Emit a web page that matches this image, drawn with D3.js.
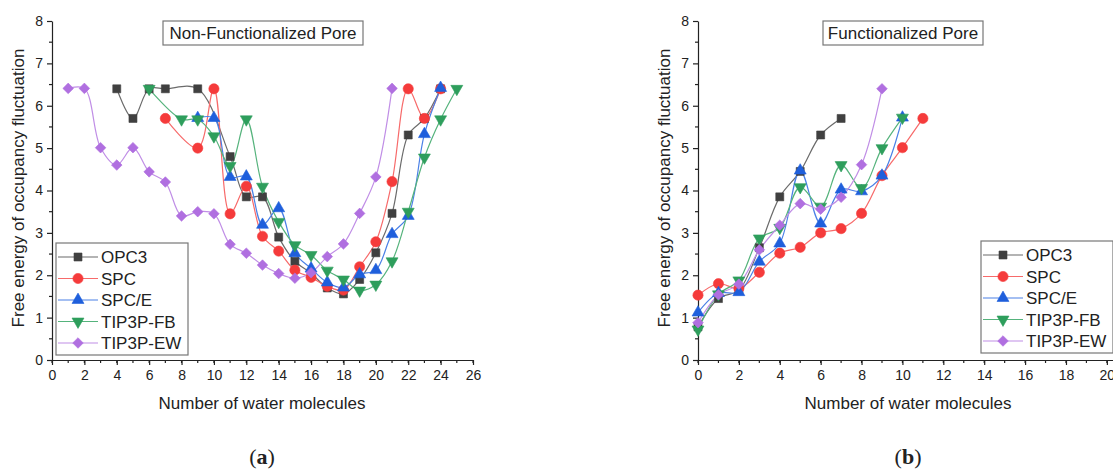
<!DOCTYPE html>
<meta charset="utf-8">
<html>
<head>
<title>Free energy of occupancy fluctuation</title>
<script src="https://cdn.jsdelivr.net/npm/d3@7"></script>
<style>
  body { margin: 0; background: #fff; }
  text { font-family: "Liberation Sans", Arial, sans-serif; fill: #222; }
  .axis path, .axis line { stroke: #222; stroke-width: 1.2px; }
  .axis text { font-size: 14px; font-family: "Liberation Sans", Arial, sans-serif; fill: #222; }
</style>
</head>
<body>
<script>

  var seriesNames = ["OPC3", "SPC", "SPC/E", "TIP3P-FB", "TIP3P-EW"];
  var markerColors = ["#404040", "#f53b3b", "#1f5fdc", "#2e9e5c", "#b06fe0"];
  var lineColors = ["#6b6b6b", "#f76a6a", "#4a80e6", "#55b37c", "#c08ee6"];

  // (a) non-functionalized pore
  var aOPC3X = [4, 5, 6, 7, 9, 11, 12, 13, 14, 15, 16, 17, 18, 19, 20, 21, 22, 23, 24];
  var aOPC3Y = [6.4, 5.7, 6.4, 6.4, 6.4, 4.8, 3.85, 3.85, 2.9, 2.33, 2.05, 1.7, 1.56, 1.9, 2.53, 3.46, 5.31, 5.7, 6.4];
  var aSPCX = [7, 9, 10, 11, 12, 13, 14, 15, 16, 17, 18, 19, 20, 21, 22, 23, 24];
  var aSPCY = [5.7, 5.0, 6.4, 3.45, 4.1, 2.92, 2.57, 2.12, 1.95, 1.74, 1.65, 2.2, 2.79, 4.21, 6.4, 5.7, 6.4];
  var aSPCEX = [9, 10, 11, 12, 13, 14, 15, 16, 17, 18, 19, 20, 21, 22, 23, 24];
  var aSPCEY = [5.71, 5.71, 4.32, 4.33, 3.19, 3.58, 2.52, 2.16, 1.83, 1.71, 2.02, 2.12, 2.97, 3.4, 5.33, 6.42];
  var aFBX = [6, 8, 9, 10, 11, 12, 13, 14, 15, 16, 17, 18, 19, 20, 21, 22, 23, 24, 25];
  var aFBY = [6.4, 5.68, 5.68, 5.28, 4.58, 5.68, 4.09, 3.26, 2.71, 2.48, 2.11, 1.9, 1.64, 1.78, 2.33, 3.5, 4.78, 5.68, 6.4];
  var aEWX = [1, 2, 3, 4, 5, 6, 7, 8, 9, 10, 11, 12, 13, 14, 15, 16, 17, 18, 19, 20, 21];
  var aEWY = [6.41, 6.41, 5.01, 4.6, 5.01, 4.44, 4.2, 3.4, 3.5, 3.45, 2.73, 2.52, 2.24, 2.04, 1.93, 2.06, 2.44, 2.74, 3.46, 4.32, 6.41];

  // (b) functionalized pore
  var bOPC3X = [0, 1, 2, 3, 4, 5, 6, 7];
  var bOPC3Y = [0.78, 1.45, 1.65, 2.65, 3.85, 4.45, 5.31, 5.7];
  var bSPCX = [0, 1, 2, 3, 4, 5, 6, 7, 8, 9, 10, 11];
  var bSPCY = [1.53, 1.8, 1.69, 2.07, 2.52, 2.66, 3.0, 3.1, 3.46, 4.35, 5.01, 5.7];
  var bSPCEX = [0, 1, 2, 3, 4, 5, 6, 7, 8, 9, 10];
  var bSPCEY = [1.12, 1.58, 1.6, 2.32, 2.75, 4.47, 3.22, 4.02, 3.98, 4.35, 5.72];
  var bFBX = [0, 1, 2, 3, 4, 5, 6, 7, 8, 9, 10];
  var bFBY = [0.72, 1.55, 1.88, 2.87, 3.12, 4.08, 3.62, 4.6, 4.06, 5.0, 5.72];
  var bEWX = [0, 1, 2, 3, 4, 5, 6, 7, 8, 9];
  var bEWY = [0.88, 1.54, 1.79, 2.6, 3.18, 3.69, 3.56, 3.84, 4.61, 6.4];

  var yTicks = [0, 1, 2, 3, 4, 5, 6, 7, 8];
  var aXTicks = [0, 2, 4, 6, 8, 10, 12, 14, 16, 18, 20, 22, 24, 26];
  var bXTicks = [0, 2, 4, 6, 8, 10, 12, 14, 16, 18, 20];

  var width = 1113, height = 470;

  var svg = d3.select("body").append("svg")
      .attr("width", width)
      .attr("height", height);

  function zip(xs, ys) {
      return xs.map(function(x, i) { return {x: x, y: ys[i]}; });
  }

  // Origin style markers
  var symbols = [
      {type: d3.symbolSquare, size: 64, rot: 0},
      {type: d3.symbolCircle, size: 82, rot: 0},
      {type: d3.symbolTriangle, size: 62, rot: 0},
      {type: d3.symbolTriangle, size: 62, rot: 180},
      {type: d3.symbolSquare, size: 56, rot: 45}
  ];

  function drawPanel(p) {
      var x = d3.scaleLinear().domain(p.xDomain).range(p.xRange);
      var y = d3.scaleLinear().domain([0, 8]).range([360, 21]);

      var g = svg.append("g");

      // minor ticks
      var xMinor = d3.range(p.xDomain[0], Math.floor(p.xDomain[1]) + 1, 1);
      g.append("g").selectAll("line").data(xMinor).enter().append("line")
          .attr("x1", function(d) { return x(d); })
          .attr("x2", function(d) { return x(d); })
          .attr("y1", 360).attr("y2", 363)
          .style("stroke", "#222").style("stroke-width", 1.2);
      g.append("g").selectAll("line").data(d3.range(0.5, 8, 1)).enter().append("line")
          .attr("y1", function(d) { return y(d); })
          .attr("y2", function(d) { return y(d); })
          .attr("x1", p.xRange[0]).attr("x2", p.xRange[0] - 3)
          .style("stroke", "#222").style("stroke-width", 1.2);

      g.append("g")
          .attr("class", "axis")
          .attr("transform", "translate(0,360)")
          .call(d3.axisBottom(x).tickValues(p.xTicks).tickSize(5).tickSizeOuter(0).tickPadding(5));

      g.append("g")
          .attr("class", "axis")
          .attr("transform", "translate(" + p.xRange[0] + ",0)")
          .call(d3.axisLeft(y).tickValues(yTicks).tickSize(5).tickSizeOuter(0).tickPadding(4));

      // axis titles
      g.append("text")
          .attr("x", p.xTitle).attr("y", 409)
          .attr("text-anchor", "middle")
          .style("font-size", "17px")
          .text("Number of water molecules");

      g.append("text")
          .attr("transform", "translate(" + p.yTitle + ",188) rotate(-90)")
          .attr("text-anchor", "middle")
          .style("font-size", "17px")
          .text("Free energy of occupancy fluctuation");

      // series
      var line = d3.line()
          .x(function(d) { return x(d.x); })
          .y(function(d) { return y(d.y); })
          .curve(d3.curveCatmullRom.alpha(0.5));

      p.series.forEach(function(s, i) {
          g.append("path")
              .datum(zip(s[0], s[1]))
              .attr("d", line)
              .style("fill", "none")
              .style("stroke", lineColors[i])
              .style("stroke-width", 1.2);
      });
      p.series.forEach(function(s, i) {
          g.append("g").selectAll("path").data(zip(s[0], s[1])).enter().append("path")
              .attr("d", d3.symbol().type(symbols[i].type).size(symbols[i].size))
              .attr("transform", function(d) {
                  return "translate(" + x(d.x) + "," + y(d.y) + ") rotate(" + symbols[i].rot + ")";
              })
              .style("fill", markerColors[i])
              .style("stroke", markerColors[i])
              .style("stroke-width", 0.6);
      });

      // title box
      var tb = g.append("g");
      tb.append("rect")
          .attr("x", p.box[0]).attr("y", 21)
          .attr("width", p.box[1]).attr("height", 24)
          .style("fill", "#fff").style("stroke", "#777").style("stroke-width", 1.2);
      tb.append("text")
          .attr("x", p.box[0] + p.box[1] / 2).attr("y", 39)
          .attr("text-anchor", "middle")
          .style("font-size", "17px")
          .text(p.title);

      // legend
      var lg = g.append("g");
      lg.append("rect")
          .attr("x", p.legend[0]).attr("y", p.legend[1])
          .attr("width", 132).attr("height", 112)
          .style("fill", "#fff").style("stroke", "#777").style("stroke-width", 1.2);
      seriesNames.forEach(function(name, i) {
          var ly = p.legend[1] + 14 + i * 21.5;
          var lx = p.legend[0];
          lg.append("line")
              .attr("x1", lx + 2).attr("x2", lx + 42)
              .attr("y1", ly).attr("y2", ly)
              .style("stroke", lineColors[i]).style("stroke-width", 1.2);
          lg.append("path")
              .attr("d", d3.symbol().type(symbols[i].type).size(symbols[i].size))
              .attr("transform", "translate(" + (lx + 22) + "," + ly + ") rotate(" + symbols[i].rot + ")")
              .style("fill", markerColors[i]).style("stroke", markerColors[i]).style("stroke-width", 0.6);
          lg.append("text")
              .attr("x", lx + 45).attr("y", ly + 6)
              .style("font-size", "17px")
              .text(name);
      });

      // panel letter
      var lt = g.append("text")
          .attr("x", p.xTitle).attr("y", 464)
          .attr("text-anchor", "middle")
          .style("font-family", "'Liberation Serif', 'Times New Roman', serif")
          .style("font-size", "22px");
      lt.append("tspan").text("(");
      lt.append("tspan").style("font-weight", "bold").text(p.letter);
      lt.append("tspan").text(")");
  }

  drawPanel({
      xDomain: [0, 26], xRange: [52, 473], xTicks: aXTicks,
      xTitle: 262, yTitle: 24,
      box: [163, 200], title: "Non-Functionalized Pore",
      legend: [56, 243], letter: "a",
      series: [[aOPC3X, aOPC3Y], [aSPCX, aSPCY], [aSPCEX, aSPCEY], [aFBX, aFBY], [aEWX, aEWY]]
  });

  drawPanel({
      xDomain: [0, 20.3], xRange: [698, 1113], xTicks: bXTicks,
      xTitle: 908, yTitle: 670,
      box: [823, 160], title: "Functionalized Pore",
      legend: [981, 241], letter: "b",
      series: [[bOPC3X, bOPC3Y], [bSPCX, bSPCY], [bSPCEX, bSPCEY], [bFBX, bFBY], [bEWX, bEWY]]
  });

</script>
</body>
</html>
